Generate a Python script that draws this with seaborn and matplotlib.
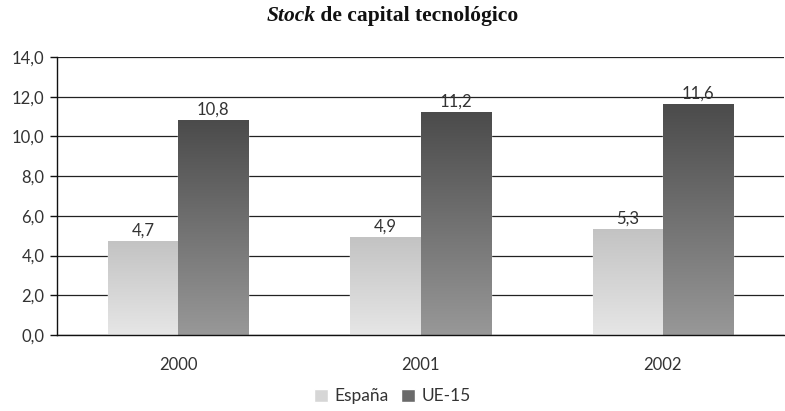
import numpy as np
import pandas as pd
import matplotlib
matplotlib.use("Agg")
import matplotlib.pyplot as plt
from matplotlib.colors import LinearSegmentedColormap
from matplotlib.patches import Patch
import seaborn as sns

# -----------------------------
# Data
# -----------------------------
years = ["2000", "2001", "2002"]
series = ["España", "UE-15"]
espana = [4.7, 4.9, 5.3]
ue15 = [10.8, 11.2, 11.6]
yticks = [0, 2, 4, 6, 8, 10, 12, 14]

df = pd.DataFrame({
    "year": years * 2,
    "serie": [series[0]] * 3 + [series[1]] * 3,
    "valor": espana + ue15,
})

# -----------------------------
# Style
# -----------------------------
sns.set_theme(style="white")
plt.rcParams["font.family"] = ["Lato", "DejaVu Sans"]
txt = "#333333"

fig = plt.figure(figsize=(7.85, 4.11), dpi=100)
ax = fig.add_axes([57 / 785, 1 - 335 / 411, (784 - 57) / 785, (335 - 57) / 411])

sns.barplot(data=df, x="year", y="valor", hue="serie",
            palette=["#d4d4d4", "#707070"], saturation=1,
            width=0.58, gap=0, legend=False, ax=ax)

# gradient fill on each bar
grads = {"España": ("#e6e6e6", "#c3c3c3"), "UE-15": ("#989898", "#4b4b4b")}
grad = np.linspace(0, 1, 256).reshape(-1, 1)
for container, name in zip(ax.containers, series):
    cmap = LinearSegmentedColormap.from_list(name, grads[name])
    for bar in container:
        x, w, h = bar.get_x(), bar.get_width(), bar.get_height()
        ax.imshow(grad, extent=[x, x + w, 0, h], origin="lower",
                  cmap=cmap, aspect="auto", zorder=2)
    ax.bar_label(container,
                 labels=[f"{v:.1f}".replace(".", ",") for v in container.datavalues],
                 padding=2, fontsize=12, color=txt)

ax.set_xlim(-0.5, 2.5)
ax.set_ylim(0, 14)
ax.set_yticks(yticks)
ax.set_yticklabels([f"{v:.1f}".replace(".", ",") for v in yticks])
ax.yaxis.grid(True, color="#222222", linewidth=0.9)
ax.set_axisbelow(True)

for s in ["top", "right"]:
    ax.spines[s].set_visible(False)
for s in ["left", "bottom"]:
    ax.spines[s].set_color("#111111")
    ax.spines[s].set_linewidth(1.0)

ax.set_xticks([-0.5, 0.5, 1.5, 2.5], minor=True)
ax.tick_params(axis="x", which="major", length=0, pad=16, labelsize=12, labelcolor=txt)
ax.tick_params(axis="x", which="minor", length=6, width=1, color="#111111", direction="out")
ax.tick_params(axis="y", length=5, width=1, color="#111111", direction="out",
               left=True, pad=4, labelsize=12, labelcolor=txt)
ax.set_xlabel("")
ax.set_ylabel("")

# legend
handles = [Patch(facecolor="#d6d6d6"), Patch(facecolor="#6a6a6a")]
fig.legend(handles, series, loc="lower center", bbox_to_anchor=(0.5, -0.022), ncol=2,
           frameon=False, handlelength=0.8, handleheight=0.8, handletextpad=0.4,
           columnspacing=0.7, fontsize=12.5, labelcolor=txt)

# title: "Stock" in italic, the rest upright
fig.canvas.draw()
r = fig.canvas.get_renderer()
tfont = dict(family="Liberation Serif", weight="bold", size=15.5, color="#111111")
t1 = fig.text(0, 0, "Stock", style="italic", **tfont)
t2 = fig.text(0, 0, " de capital tecnológico", **tfont)
w1 = t1.get_window_extent(r).width
w2 = t2.get_window_extent(r).width
x0 = (785 - (w1 + w2)) / 2
ty = 1 - 21 / 411
t1.set_position((x0 / 785, ty))
t2.set_position(((x0 + w1) / 785, ty))

fig.savefig("out.png", dpi=100)
